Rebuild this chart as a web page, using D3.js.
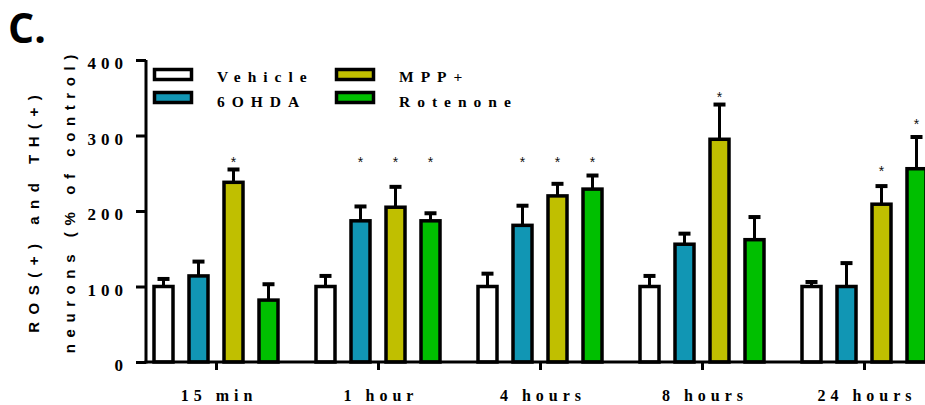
<!DOCTYPE html>
<html><head><meta charset="utf-8">
<script src="https://cdn.jsdelivr.net/npm/d3@7"></script>
<style>body{margin:0;background:#fff}svg{display:block}</style>
</head><body>
<svg id="chart" width="925" height="405"></svg>
<script>
const categories = ["15 min", "1 hour", "4 hours", "8 hours", "24 hours"];
const seriesNames = ["Vehicle", "6OHDA", "MPP+", "Rotenone"];
const vehicle = [100, 100, 100, 100, 100];
const ohda = [114, 187, 181, 156, 100];
const mpp = [238, 205, 220, 295, 209];
const rotenone = [82, 187, 229, 162, 256];
const vehicleErr = [10, 14, 17, 14, 6];
const ohdaErr = [19, 19, 26, 14, 31];
const mppErr = [17, 27, 16, 46, 24];
const rotenoneErr = [21, 10, 18, 30, 42];
const vehicleStar = [null, null, null, null, null];
const ohdaStar = [null, 270, 270, null, null];
const mppStar = [270, 270, 270, 356, 258];
const rotenoneStar = [null, 270, 270, null, 320];
const yTicks = [0, 100, 200, 300, 400];
const colors = ["#ffffff", "#1196b4", "#c0bf00", "#00bf00"];

const values = [vehicle, ohda, mpp, rotenone];
const errs = [vehicleErr, ohdaErr, mppErr, rotenoneErr];
const stars = [vehicleStar, ohdaStar, mppStar, rotenoneStar];

const svg = d3.select("#chart");
const y = d3.scaleLinear().domain([0, 400]).range([362, 60]);
const x = d3.scalePoint().domain(categories).range([216, 864]);
const xs = d3.scaleBand().domain(seriesNames).range([-70, 70]);
const bw = 19;

const data = [];
seriesNames.forEach((s, si) => categories.forEach((c, ci) => {
  data.push({s, c, si, v: values[si][ci], e: errs[si][ci], star: stars[si][ci]});
}));

// error bars
const eg = svg.append("g").attr("stroke", "#000").attr("stroke-width", 3);
data.forEach(d => {
  const cx = x(d.c) + xs(d.s) + xs.bandwidth() / 2;
  eg.append("line").attr("x1", cx).attr("x2", cx).attr("y1", y(d.v)).attr("y2", y(d.v + d.e));
  eg.append("line").attr("x1", cx - 6).attr("x2", cx + 6).attr("y1", y(d.v + d.e)).attr("y2", y(d.v + d.e)).attr("stroke-width", 4);
});

// bars
svg.append("g").selectAll("rect").data(data).join("rect")
  .attr("x", d => x(d.c) + xs(d.s) + xs.bandwidth() / 2 - bw / 2)
  .attr("y", d => y(d.v))
  .attr("width", bw)
  .attr("height", d => y(0) - y(d.v))
  .attr("fill", d => colors[d.si])
  .attr("stroke", "#000").attr("stroke-width", 3.5);

// stars
svg.append("g").selectAll("text").data(data.filter(d => d.star != null)).join("text")
  .attr("x", d => x(d.c) + xs(d.s) + xs.bandwidth() / 2)
  .attr("y", d => y(d.star))
  .attr("dy", "0.6em")
  .attr("text-anchor", "middle")
  .attr("font-family", "Liberation Sans, Arial, sans-serif")
  .attr("font-size", 14)
  .attr("fill", "#111")
  .text("*");

// y axis
const yAxis = svg.append("g").attr("transform", "translate(146,0)")
  .call(d3.axisLeft(y).tickValues(yTicks).tickSize(10).tickPadding(13).tickSizeOuter(0));
yAxis.select(".domain").attr("stroke-width", 3).attr("d", `M0,${y(400)}V${y(0) + 1.5}`);
yAxis.selectAll(".tick line").attr("stroke-width", 3);
yAxis.selectAll(".tick text")
  .attr("font-family", "Liberation Serif, Times New Roman, serif")
  .attr("font-weight", "bold").attr("font-size", 17)
  .attr("letter-spacing", 5).attr("dx", 5).attr("dy", "0.5em").attr("fill", "#000");

// x axis
const xAxis = svg.append("g").attr("transform", `translate(0,${y(0)})`)
  .call(d3.axisBottom(x).tickSize(8).tickPadding(20).tickSizeOuter(0));
xAxis.select(".domain").attr("stroke-width", 3).attr("d", "M144.5,0H925");
xAxis.selectAll(".tick line").attr("stroke-width", 3);
xAxis.selectAll(".tick text")
  .attr("font-family", "Liberation Serif, Times New Roman, serif")
  .attr("font-weight", "bold").attr("font-size", 16)
  .attr("letter-spacing", 5).attr("dx", 2.5).attr("fill", "#000");

// legend
const legendPos = [[153, 68], [153, 91], [335, 68], [335, 91]];
const lg = svg.append("g");
seriesNames.forEach((s, i) => {
  const [lx, ly] = legendPos[i];
  lg.append("rect").attr("x", lx + 1.5).attr("y", ly + 1.5).attr("width", 37).attr("height", 10)
    .attr("fill", colors[i]).attr("stroke", "#000").attr("stroke-width", 3.5);
  lg.append("text").attr("x", lx + 64).attr("y", ly + 14 + (i % 2) * 1.5)
    .attr("font-family", "Liberation Serif, Times New Roman, serif")
    .attr("font-weight", "bold").attr("font-size", 15.5)
    .attr("letter-spacing", 7).text(s);
});

// y title
const yt = svg.append("g").attr("font-family", "Liberation Sans, Arial, sans-serif")
  .attr("font-weight", "bold").attr("font-size", 15).attr("fill", "#000");
yt.append("text").attr("transform", "translate(39,214) rotate(-90)").attr("text-anchor", "middle")
  .attr("letter-spacing", 7.5).attr("dx", 3.75).text("ROS(+) and TH(+)");
yt.append("text").attr("transform", "translate(75,204) rotate(-90)").attr("text-anchor", "middle")
  .attr("letter-spacing", 6.6).attr("dx", 3.3).text("neurons (% of control)");

// panel label
svg.append("text").attr("x", 8).attr("y", 43)
  .attr("font-family", "Open Sans, sans-serif").attr("font-weight", "bold")
  .attr("font-size", 41).text("C.");
</script>
</body></html>
